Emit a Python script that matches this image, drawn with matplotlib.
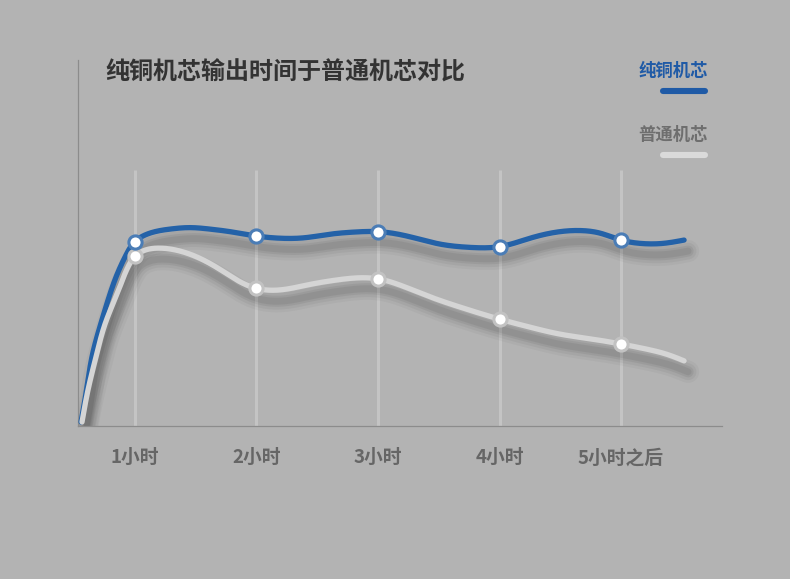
import numpy as np
import matplotlib
matplotlib.use("Agg")
import matplotlib.pyplot as plt
from matplotlib.lines import Line2D
from matplotlib.transforms import offset_copy

plt.rcParams['font.family'] = ['Noto Sans CJK SC', 'DejaVu Sans']

# ---- data -------------------------------------------------------------
title = '纯铜机芯输出时间于普通机芯对比'
categories = ['1小时', '2小时', '3小时', '4小时', '5小时之后']
series_names = ['纯铜机芯', '普通机芯']
hours = [1, 2, 3, 4, 5]

# values at each hour mark
copper = [50.4, 51.9, 53.1, 49.0, 50.8]
normal = [46.4, 37.6, 40.2, 29.2, 22.4]

# shape of each curve between the hour marks
copper_path_x = [0.556, 0.601, 0.646, 0.720, 0.778, 0.844, 0.926,
                 1.123, 1.288, 1.453, 1.617, 1.782,
                 2.198, 2.385, 2.605, 2.811,
                 3.263, 3.510, 3.757,
                 4.251, 4.498, 4.663, 4.827,
                 5.156, 5.348, 5.519]
copper_path_y = [1.1, 9.8, 18.9, 28.1, 34.4, 40.7, 46.7,
                 52.7, 53.8, 54.2, 53.8, 53.1,
                 51.3, 51.4, 52.4, 53.0,
                 51.7, 49.7, 48.8,
                 51.3, 53.1, 53.4, 52.7,
                 49.9, 49.9, 50.8]
normal_path_x = [0.564, 0.613, 0.679, 0.756, 0.866, 0.959,
                 1.123, 1.206, 1.370, 1.535, 1.727, 1.864,
                 2.198, 2.413, 2.660,
                 3.181, 3.428, 3.702,
                 4.251, 4.498, 4.772,
                 5.211, 5.376, 5.519]
normal_path_y = [1.1, 9.8, 18.9, 28.1, 37.2, 44.5,
                 48.4, 48.6, 47.8, 45.8, 42.2, 39.4,
                 37.2, 38.5, 39.9,
                 38.5, 35.3, 32.2,
                 27.0, 25.1, 23.7,
                 21.0, 19.6, 17.8]

BG = '#b3b3b3'
BLUE = '#2462a8'
BLUE_EDGE = '#4b7db6'
GREY_LINE = '#d5d5d5'
GREY_EDGE = '#c2c2c2'

W, H = 790, 579
X_LIM = (0.531, 5.831)
Y_LIM = (0, 100)
AX_W_PX, AX_H_PX = 644, 366


def natural_spline(x, y, xs):
    x = np.asarray(x, float)
    y = np.asarray(y, float)
    n = len(x)
    h = np.diff(x)
    A = np.zeros((n, n))
    r = np.zeros(n)
    A[0, 0] = A[-1, -1] = 1
    for i in range(1, n - 1):
        A[i, i - 1] = h[i - 1]
        A[i, i] = 2 * (h[i - 1] + h[i])
        A[i, i + 1] = h[i]
        r[i] = 6 * ((y[i + 1] - y[i]) / h[i] - (y[i] - y[i - 1]) / h[i - 1])
    M = np.linalg.solve(A, r)
    out = np.empty_like(xs)
    for k, t in enumerate(xs):
        i = min(max(np.searchsorted(x, t) - 1, 0), n - 2)
        a, b = x[i], x[i + 1]
        hi = b - a
        out[k] = (M[i] * (b - t) ** 3 / (6 * hi) + M[i + 1] * (t - a) ** 3 / (6 * hi)
                  + (y[i] / hi - M[i] * hi / 6) * (b - t)
                  + (y[i + 1] / hi - M[i + 1] * hi / 6) * (t - a))
    return out


def smooth_curve(px, py, mx, my):
    """Parametric spline through the path and hour points, smooth on screen."""
    x = np.concatenate([px, mx]).astype(float)
    y = np.concatenate([py, my]).astype(float)
    order = np.argsort(x)
    x, y = x[order], y[order]
    sx = AX_W_PX / (X_LIM[1] - X_LIM[0])
    sy = AX_H_PX / (Y_LIM[1] - Y_LIM[0])
    seg = np.hypot(np.diff(x) * sx, np.diff(y) * sy)
    t = np.concatenate([[0], np.cumsum(seg)])
    ts = np.linspace(0, t[-1], 1500)
    return natural_spline(t, x, ts), natural_spline(t, y, ts)


fig = plt.figure(figsize=(W / 100, H / 100), dpi=100)
fig.patch.set_facecolor(BG)

ax = fig.add_axes([78 / W, 1 - 426 / H, AX_W_PX / W, AX_H_PX / H])
ax.set_facecolor('none')
ax.set_xlim(*X_LIM)
ax.set_ylim(*Y_LIM)
for s in ('top', 'right'):
    ax.spines[s].set_visible(False)
for s in ('left', 'bottom'):
    ax.spines[s].set_color('#8c8c8c')
    ax.spines[s].set_linewidth(0.9)

# vertical guide lines at each hour
ax.vlines(hours, 0, 70, color='#c4c4c4', lw=2.2, zorder=1)

xc, copper_s = smooth_curve(copper_path_x, copper_path_y, hours, copper)
xn, normal_s = smooth_curve(normal_path_x, normal_path_y, hours, normal)

# soft drop shadows under the curves
shadow_tr = offset_copy(ax.transData, fig=fig, x=4, y=-11, units='dots')
for xs, ys in ((xc, copper_s), (xn, normal_s)):
    for lw, al in ((16, 0.03), (12, 0.045), (8, 0.055), (5, 0.06)):
        ax.plot(xs, ys, color='black', lw=lw, alpha=al, transform=shadow_tr,
                solid_capstyle='round', zorder=2)

ax.plot(xc, copper_s, color=BLUE, lw=3.8, solid_capstyle='round', zorder=3)
ax.plot(xn, normal_s, color=GREY_LINE, lw=3.8, solid_capstyle='round', zorder=4)

ax.plot(hours, normal, 'o', ms=9.5, mfc='white', mec=GREY_EDGE, mew=2.2, zorder=5)
ax.plot(hours, copper, 'o', ms=9.5, mfc='white', mec=BLUE_EDGE, mew=2.2, zorder=6)

ax.set_yticks([])
ax.set_xticks(hours, categories)
ax.tick_params(axis='x', length=0, pad=16, labelsize=13.5, labelcolor='#666666')
for lab in ax.get_xticklabels():
    lab.set_fontweight('bold')

fig.text(105 / W, 1 - 73 / H, title, ha='left', va='center', fontsize=17.3,
         fontweight='bold', color='#333333')

# legend
fig.text(708 / W, 1 - 71 / H, series_names[0], ha='right', va='center', fontsize=12.5,
         fontweight='bold', color='#1f5aa6')
fig.text(708 / W, 1 - 135 / H, series_names[1], ha='right', va='center', fontsize=12.5,
         fontweight='bold', color='#6e6e6e')
fig.add_artist(Line2D([663 / W, 705 / W], [1 - 91 / H, 1 - 91 / H], transform=fig.transFigure,
                      color='#1f5aa6', lw=4.4, solid_capstyle='round'))
fig.add_artist(Line2D([663 / W, 705 / W], [1 - 155 / H, 1 - 155 / H], transform=fig.transFigure,
                      color='#dadada', lw=4.4, solid_capstyle='round'))

fig.savefig('out.png', dpi=100, facecolor=BG)
